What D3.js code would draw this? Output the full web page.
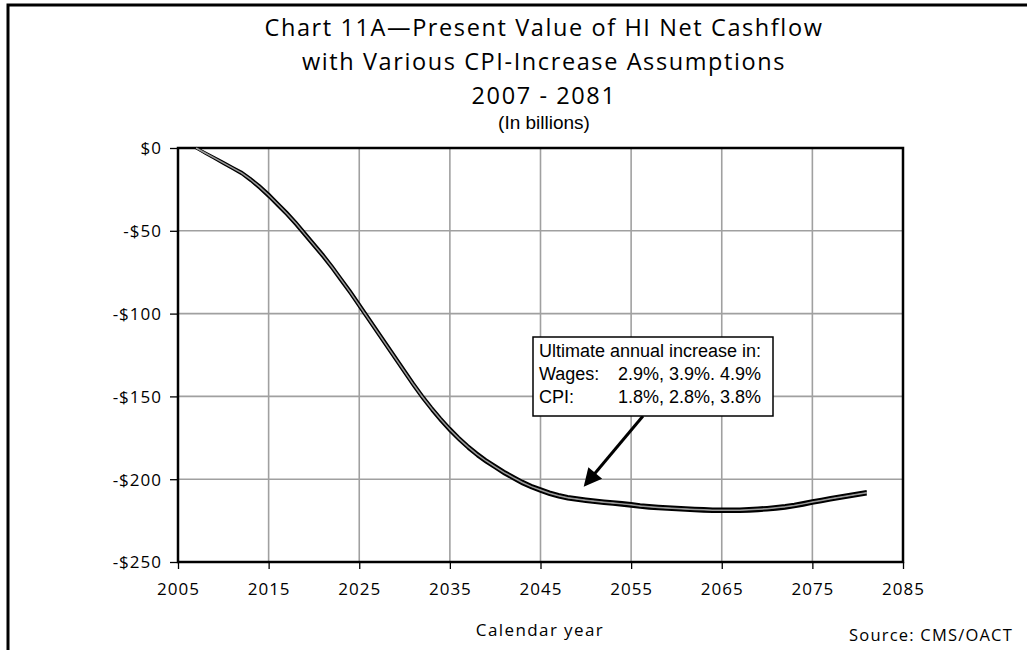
<!DOCTYPE html>
<html>
<head>
<meta charset="utf-8">
<script src="https://cdn.jsdelivr.net/npm/d3@7"></script>
<style>
  html, body { margin: 0; padding: 0; background: #fff; }
  svg { display: block; }
  .ttl { font-family: "Open Sans", sans-serif; fill: #000; }
  .ax text { font-family: "Open Sans", sans-serif; font-size: 17px; letter-spacing: 1px; fill: #000; }
</style>
</head>
<body>
<svg id="chart" width="1027" height="650"></svg>
<script>
// Calendar years covered by the projection
const years = d3.range(2007, 2082);

// Present value of HI net cashflow, $ billions, three economic assumption sets
// Low CPI increase (wages 2.9%, CPI 1.8%)
const lowCPI = [0,-2.8,-5.7,-8.6,-11.5,-14.4,-18.3,-22.7,-27.6,-33.1,
  -38.6,-44.6,-51.1,-57.6,-64.1,-71.1,-78.6,-86.1,-94.1,-102.1,
  -110.1,-118.1,-126.1,-134.1,-142.1,-149.6,-156.6,-163.1,-169.1,-174.6,
  -179.6,-184.1,-188.1,-191.6,-195.1,-198.1,-201.1,-203.6,-205.6,-207.6,
  -209.1,-210.3,-211.1,-211.8,-212.4,-213,-213.5,-214,-214.6,-215.3,
  -215.8,-216.2,-216.5,-216.8,-217.1,-217.4,-217.6,-217.8,-217.9,-217.9,
  -217.8,-217.6,-217.3,-216.9,-216.4,-215.8,-215,-214,-212.9,-211.9,
  -210.9,-210,-209.1,-208.2,-207.3];
// Intermediate CPI increase (wages 3.9%, CPI 2.8%)
const midCPI = [0,-3,-6,-9,-12,-15,-19,-23.5,-28.5,-34,
  -39.5,-45.5,-52,-58.5,-65,-72,-79.5,-87,-95,-103,
  -111,-119,-127,-135,-143,-150.5,-157.5,-164,-170,-175.5,
  -180.5,-185,-189,-192.5,-196,-199,-202,-204.5,-206.5,-208.5,
  -210,-211.2,-212,-212.7,-213.3,-213.9,-214.4,-214.9,-215.5,-216.2,
  -216.7,-217.1,-217.4,-217.7,-218,-218.3,-218.5,-218.7,-218.8,-218.8,
  -218.7,-218.5,-218.2,-217.8,-217.3,-216.7,-215.9,-214.9,-213.8,-212.8,
  -211.8,-210.9,-210,-209.1,-208.2];
// High CPI increase (wages 4.9%, CPI 3.8%)
const highCPI = [0,-3.2,-6.3,-9.4,-12.5,-15.6,-19.7,-24.3,-29.4,-34.9,
  -40.4,-46.4,-52.9,-59.4,-65.9,-72.9,-80.4,-87.9,-95.9,-103.9,
  -111.9,-119.9,-127.9,-135.9,-143.9,-151.4,-158.4,-164.9,-170.9,-176.4,
  -181.4,-185.9,-189.9,-193.4,-196.9,-199.9,-202.9,-205.4,-207.4,-209.4,
  -210.9,-212.1,-212.9,-213.6,-214.2,-214.8,-215.3,-215.8,-216.4,-217.1,
  -217.6,-218,-218.3,-218.6,-218.9,-219.2,-219.4,-219.6,-219.7,-219.7,
  -219.6,-219.4,-219.1,-218.7,-218.2,-217.6,-216.8,-215.8,-214.7,-213.7,
  -212.7,-211.8,-210.9,-210,-209.1];

// Axis ticks
const xTicks = [2005, 2015, 2025, 2035, 2045, 2055, 2065, 2075, 2085];
const yTicks = [0, -50, -100, -150, -200, -250];

const titleLines = [
  "Chart 11A\u2014Present Value of HI Net Cashflow",
  "with Various CPI-Increase Assumptions",
  "2007 - 2081"
];
const subtitle = "(In billions)";
const xTitle = "Calendar year";
const sourceNote = "Source: CMS/OACT";
const noteLines = [
  ["Ultimate annual increase in:", ""],
  ["Wages:", "2.9%, 3.9%. 4.9%"],
  ["CPI:", "1.8%, 2.8%, 3.8%"]
];

const svg = d3.select("#chart");
const plot = { left: 178, right: 903, top: 148, bottom: 562 };

const x = d3.scaleLinear().domain([2005, 2085]).range([plot.left, plot.right]);
const y = d3.scaleLinear().domain([-250, 0]).range([plot.bottom, plot.top]);

// Outer frame
svg.append("rect")
  .attr("x", 8).attr("y", 5).attr("width", 1100).attr("height", 700)
  .attr("fill", "none").attr("stroke", "#000").attr("stroke-width", 3);

// Titles
const tg = svg.append("g").attr("class", "ttl");
const tY = [36, 70, 104];
titleLines.forEach((t, i) => {
  tg.append("text").attr("x", 544).attr("y", tY[i])
    .attr("text-anchor", "middle").attr("font-size", 23.5)
    .attr("letter-spacing", 1.6).text(t);
});
svg.append("text").attr("x", 544).attr("y", 129)
  .attr("text-anchor", "middle")
  .attr("font-family", "'Liberation Sans', Arial, sans-serif")
  .attr("font-size", 19).text(subtitle);

// Gridlines
const grid = svg.append("g");
grid.selectAll("line.v").data(xTicks.slice(1, -1)).join("line")
  .attr("x1", d => x(d)).attr("x2", d => x(d))
  .attr("y1", plot.top).attr("y2", plot.bottom)
  .attr("stroke", "#a0a0a0").attr("stroke-width", 1.6);
grid.selectAll("line.h").data(yTicks.slice(1, -1)).join("line")
  .attr("x1", plot.left).attr("x2", plot.right)
  .attr("y1", d => y(d)).attr("y2", d => y(d))
  .attr("stroke", "#a0a0a0").attr("stroke-width", 1.6);

// Axes
const xAxis = d3.axisBottom(x).tickValues(xTicks).tickFormat(d3.format("d"))
  .tickSize(7).tickPadding(14);
const gx = svg.append("g").attr("class", "ax")
  .attr("transform", `translate(0,${plot.bottom})`).call(xAxis);
gx.select(".domain").remove();
gx.selectAll(".tick line").attr("stroke", "#000").attr("stroke-width", 1.3);

const yFmt = d => d === 0 ? "$0" : "-$" + Math.abs(d);
const yAxis = d3.axisLeft(y).tickValues(yTicks).tickFormat(yFmt)
  .tickSize(8).tickPadding(8);
const gy = svg.append("g").attr("class", "ax")
  .attr("transform", `translate(${plot.left},0)`).call(yAxis);
gy.select(".domain").remove();
gy.selectAll(".tick line").attr("stroke", "#000").attr("stroke-width", 1.3);
gy.selectAll(".tick text").attr("dy", "0.35em");

// Plot border
svg.append("rect")
  .attr("x", plot.left).attr("y", plot.top)
  .attr("width", plot.right - plot.left).attr("height", plot.bottom - plot.top)
  .attr("fill", "none").attr("stroke", "#000").attr("stroke-width", 2.5);

// Series lines
const line = d3.line().x((d, i) => x(years[i])).y(d => y(d));
const series = [
  { v: highCPI, c: "#000", w: 2.6 },
  { v: lowCPI, c: "#000", w: 2.6 },
  { v: midCPI, c: "#999", w: 1.5 }
];
svg.append("g").selectAll("path").data(series).join("path")
  .attr("d", d => line(d.v))
  .attr("fill", "none").attr("stroke", d => d.c)
  .attr("stroke-width", d => d.w).attr("stroke-linejoin", "round");

// Annotation arrow
svg.append("defs").append("marker")
  .attr("id", "head").attr("viewBox", "0 0 10 10")
  .attr("refX", 8).attr("refY", 5)
  .attr("markerWidth", 7).attr("markerHeight", 6)
  .attr("markerUnits", "strokeWidth").attr("orient", "auto")
  .append("path").attr("d", "M0,0 L10,5 L0,10 Z").attr("fill", "#000");
svg.append("line")
  .attr("x1", 643).attr("y1", 416).attr("x2", 586).attr("y2", 484)
  .attr("stroke", "#000").attr("stroke-width", 3)
  .attr("marker-end", "url(#head)");

// Annotation box
const note = svg.append("g")
  .attr("font-family", "'Liberation Sans', Arial, sans-serif")
  .attr("font-size", 18);
note.append("rect")
  .attr("x", 533).attr("y", 337).attr("width", 240).attr("height", 79)
  .attr("fill", "#fff").attr("stroke", "#000").attr("stroke-width", 1.5);
noteLines.forEach((ln, i) => {
  note.append("text").attr("x", 539).attr("y", 357 + i * 23).text(ln[0]);
  if (ln[1]) note.append("text").attr("x", 618).attr("y", 357 + i * 23).text(ln[1]);
});

// Axis title and source
svg.append("text").attr("class", "ttl")
  .attr("x", 540).attr("y", 636).attr("text-anchor", "middle")
  .attr("font-size", 17).attr("letter-spacing", 1.4).text(xTitle);
svg.append("text").attr("class", "ttl")
  .attr("x", 1013).attr("y", 641).attr("text-anchor", "end")
  .attr("font-size", 16.5).attr("letter-spacing", 1.2).text(sourceNote);
</script>
</body>
</html>
